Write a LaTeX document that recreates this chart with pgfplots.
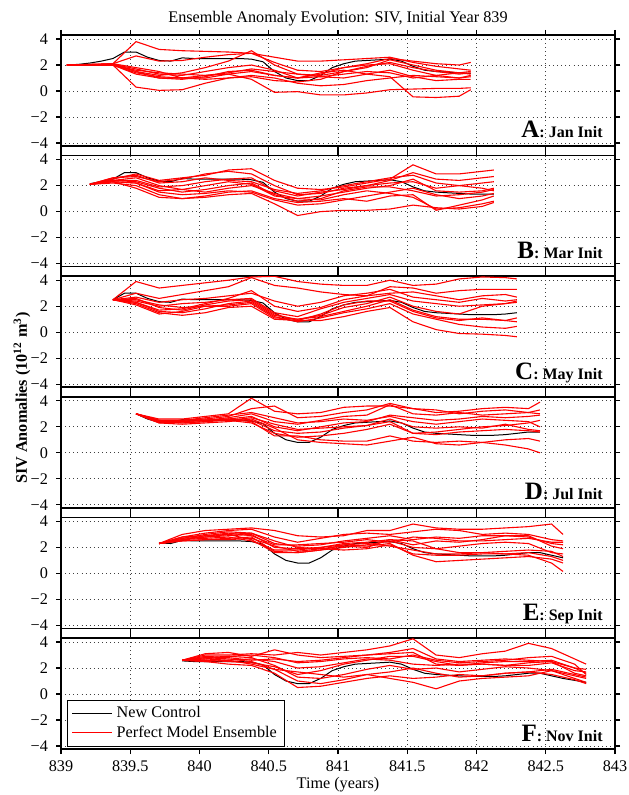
\documentclass[border=0pt]{standalone}
\usepackage{fontspec}
\setmainfont{Liberation Serif}
\usepackage{pgfplots}
\usepackage{pgfplotstable}
\pgfplotsset{compat=1.18}

% x is in months since mid-Jan 839 (g=0 -> 839.04); 839 -> -0.5, 843 -> 47.5
\pgfplotstableread{
g v
0 2.0
1 2.05
2 2.15
3 2.3
4 2.5
5 3.0
6 3.0
7 2.6
8 2.35
9 2.3
10 2.55
11 2.5
12 2.5
13 2.5
14 2.5
15 2.5
16 2.45
17 2.25
18 1.5
19 1.0
20 0.8
21 0.8
22 1.2
23 1.8
24 2.1
25 2.3
26 2.35
27 2.4
28 2.45
29 2.3
30 1.9
31 1.6
32 1.5
33 1.45
34 1.4
35 1.35
36 1.35
37 1.35
38 1.4
39 1.5
40 1.6
41 1.6
42 1.4
43 1.2
44 1.05
45 0.9
}\ctrl

\pgfplotstableread{
g m1 m2 m3 m4 m5 m6 m7 m8 m9 m10
0 2.0 2.0 2.0 2.0 2.0 2.0 2.0 2.0 2.0 2.0
2 2.0 2.05 2.0 2.0 2.0 2.0 2.05 2.0 2.0 2.0
4 2.1 2.1 2.0 2.0 2.0 2.0 2.1 2.0 2.1 2.05
6 3.8 2.7 1.5 0.3 1.3 1.4 1.5 1.6 1.8 1.7
8 3.2 2.3 1.2 0.05 1.0 1.1 1.0 1.4 1.5 1.3
10 3.1 2.35 1.4 0.1 1.0 1.0 0.9 1.3 1.0 1.2
12 3.05 2.6 1.8 0.6 1.2 1.0 1.1 1.2 0.9 1.5
14 3.0 2.8 2.3 1.0 1.3 1.3 1.5 1.4 1.0 1.8
16 2.9 2.9 3.1 1.2 0.9 1.5 1.6 1.7 1.1 2.0
18 2.6 2.2 2.0 1.0 -0.1 1.2 1.2 1.5 0.8 1.6
20 2.3 1.6 1.3 0.6 -0.05 1.0 1.0 1.3 0.7 1.0
22 2.3 1.5 1.2 0.4 -0.3 1.4 1.3 1.1 0.9 1.1
24 2.4 1.8 1.5 0.5 -0.3 1.6 1.8 1.0 1.5 1.3
26 2.5 2.1 1.9 0.8 -0.15 1.3 2.0 1.3 1.8 1.5
28 2.6 2.5 2.2 1.0 0.1 1.1 2.1 1.6 2.4 1.4
30 2.2 2.3 1.8 1.2 0.15 -0.45 1.6 1.1 2.0 1.0
32 1.9 2.1 1.5 1.1 0.2 -0.5 1.2 0.8 1.6 1.2
34 1.7 2.0 1.3 1.0 0.2 -0.4 1.0 0.9 1.4 1.4
35 1.6 2.2 1.4 1.1 0.25 0.1 1.2 0.9 1.3 1.5
}\panelA

\pgfplotstableread{
g m1 m2 m3 m4 m5 m6 m7 m8 m9 m10
2 2.1 2.1 2.1 2.1 2.1 2.1 2.1 2.1 2.1 2.1
4 2.5 2.6 2.4 2.3 2.4 2.3 2.2 2.3 2.6 2.4
6 2.9 2.7 2.4 2.2 2.6 2.2 2.0 1.8 2.8 2.3
8 2.4 2.3 1.9 1.6 2.0 1.5 1.3 1.1 2.2 1.8
10 2.6 2.5 2.0 1.7 1.7 1.3 1.0 1.0 2.3 1.5
12 2.8 2.9 2.3 2.0 1.5 1.4 1.1 1.2 2.6 1.7
14 3.2 3.1 2.5 2.3 1.8 1.6 1.3 1.5 2.4 2.0
16 3.3 2.9 2.6 2.1 2.0 1.5 1.4 1.6 2.3 2.2
18 2.4 2.0 1.6 1.2 1.4 0.9 0.6 1.0 1.7 1.3
20 1.8 1.3 1.2 1.0 1.0 0.5 -0.3 0.7 1.4 0.8
22 1.7 1.4 1.5 1.2 0.9 0.6 0.0 0.8 1.6 1.0
24 1.9 1.8 1.7 1.5 1.3 0.9 0.1 1.0 2.0 1.6
26 2.2 2.0 2.0 1.8 1.6 1.2 0.1 0.8 2.3 1.9
28 2.5 2.4 2.2 2.0 1.4 1.5 0.2 1.2 2.6 1.9
30 3.6 3.0 2.3 2.5 1.1 1.8 0.5 1.3 2.8 1.6
32 2.9 2.5 1.8 1.6 0.2 1.3 0.3 0.1 2.2 1.2
34 2.9 2.4 2.0 1.5 0.3 1.0 0.2 0.5 2.0 1.3
36 3.1 2.6 2.2 1.6 0.6 1.2 0.4 0.9 1.8 1.5
37 3.2 2.7 2.3 1.8 0.8 1.4 0.7 1.2 1.6 1.7
}\panelB

\pgfplotstableread{
g m1 m2 m3 m4 m5 m6 m7 m8 m9 m10
4 2.5 2.5 2.5 2.5 2.5 2.5 2.5 2.5 2.5 2.5
6 3.9 3.0 2.7 2.4 2.3 2.1 2.2 2.6 2.3 2.5
8 3.4 2.6 2.3 2.0 1.6 1.4 1.5 1.9 1.7 2.1
10 3.6 2.9 2.5 2.2 1.5 1.6 1.3 1.7 1.8 1.9
12 3.8 3.2 2.6 2.3 1.8 2.0 1.5 2.1 2.2 2.0
14 4.0 3.5 2.8 2.5 2.2 2.0 1.9 2.4 2.6 2.1
16 4.25 4.2 3.0 2.6 2.4 2.2 2.0 2.5 3.2 2.3
18 4.3 3.6 2.4 1.5 1.3 1.1 1.0 1.4 2.0 1.2
20 3.9 3.4 2.0 1.2 1.0 1.0 0.9 0.9 1.6 0.8
22 3.7 3.1 2.3 1.8 1.2 1.3 0.9 1.4 1.9 1.1
24 3.6 2.9 2.8 2.3 1.6 1.9 1.2 2.1 2.5 1.5
26 3.6 2.8 3.0 2.6 2.0 2.2 1.6 2.4 2.8 1.8
28 4.0 3.5 3.3 2.9 2.5 2.7 1.9 2.4 3.0 2.2
30 3.6 3.4 2.7 2.4 1.7 2.0 0.8 1.6 3.1 1.4
32 3.7 3.0 2.5 2.2 1.2 1.6 0.2 1.1 2.8 1.0
34 4.1 3.2 2.3 2.0 1.0 1.4 -0.1 0.9 2.5 0.6
36 4.25 3.3 2.6 2.1 1.0 2.0 -0.15 1.1 2.8 0.4
38 4.2 3.3 2.4 2.2 0.9 2.2 -0.25 0.9 2.9 0.3
39 4.1 3.3 2.5 2.3 1.1 2.4 -0.35 0.8 2.7 0.45
}\panelC

\pgfplotstableread{
g m1 m2 m3 m4 m5 m6 m7 m8 m9 m10
6 3.0 3.0 3.0 3.0 3.0 3.0 3.0 3.0 3.0 3.0
8 2.6 2.5 2.4 2.3 2.5 2.4 2.3 2.4 2.5 2.4
10 2.6 2.5 2.4 2.4 2.3 2.5 2.2 2.4 2.5 2.3
12 2.8 2.6 2.5 2.5 2.4 2.6 2.3 2.5 2.7 2.4
14 3.0 2.8 2.7 2.6 2.6 2.5 2.4 2.6 2.9 2.5
16 4.2 3.4 3.0 2.8 2.5 2.3 2.6 2.4 3.1 2.7
18 3.2 3.6 2.4 2.0 1.7 1.5 1.9 1.3 2.7 2.2
20 3.0 2.7 2.2 1.7 1.5 1.2 1.0 1.3 2.3 1.8
22 3.1 2.8 2.5 2.0 1.6 1.3 0.8 1.0 2.4 1.9
24 3.5 3.1 2.8 2.3 1.9 1.5 0.7 0.9 2.6 2.0
26 3.6 3.3 2.9 2.4 2.1 1.8 0.6 0.9 2.5 2.1
28 3.6 3.8 3.7 2.9 2.4 2.2 0.9 1.3 2.8 2.6
30 3.4 3.4 3.0 2.7 1.5 1.5 1.2 0.9 2.4 2.0
32 3.1 3.3 2.9 2.5 1.6 1.4 0.7 0.8 2.2 1.9
34 3.2 3.0 3.1 2.6 1.8 1.6 0.6 0.9 2.4 2.0
36 3.4 3.2 2.9 2.8 2.0 1.7 0.8 0.8 2.6 1.9
38 3.5 3.3 3.0 2.7 2.1 1.8 1.0 0.6 2.5 2.2
40 3.4 3.1 3.1 2.8 2.3 1.7 1.1 0.3 2.4 1.8
41 3.9 3.3 3.0 2.9 2.5 1.6 0.9 0.0 2.0 1.7
}\panelD

\pgfplotstableread{
g m1 m2 m3 m4 m5 m6 m7 m8 m9 m10
8 2.3 2.3 2.3 2.3 2.3 2.3 2.3 2.3 2.3 2.3
10 3.0 2.8 2.7 2.6 2.5 2.8 2.6 2.5 2.7 2.6
12 3.3 3.1 3.0 2.8 2.6 2.9 2.7 2.6 2.8 2.9
14 3.4 3.3 3.2 2.9 2.7 3.0 2.8 2.6 3.0 3.1
16 3.5 3.4 3.1 3.0 2.8 2.6 2.5 2.7 3.1 2.9
18 3.3 2.8 2.3 2.0 1.7 1.6 1.8 2.1 2.5 2.2
20 2.9 2.4 2.1 1.9 1.6 1.6 1.8 1.7 2.0 2.2
22 2.8 2.7 2.2 2.0 1.8 1.8 2.0 1.9 1.9 2.3
24 2.9 3.0 2.5 2.3 2.0 2.2 2.2 2.1 1.8 2.4
26 3.3 3.1 2.7 2.4 2.2 2.1 2.3 2.0 1.9 2.6
28 3.3 3.0 2.9 2.6 2.5 2.3 2.1 2.6 2.2 2.4
30 3.8 3.2 2.6 2.2 2.0 1.4 1.8 2.5 1.5 2.8
32 3.5 3.4 2.8 2.5 1.9 0.9 1.5 1.9 1.4 2.7
34 3.4 3.3 2.7 2.4 2.1 1.0 1.5 1.6 1.4 2.5
36 3.4 3.0 2.9 2.6 2.3 1.1 1.6 1.6 1.5 2.5
38 3.5 3.1 2.9 2.9 2.4 1.2 1.5 1.7 1.5 2.6
40 3.6 3.0 2.8 2.9 2.3 1.3 1.4 1.8 1.6 2.7
42 3.8 2.6 2.3 2.1 1.6 1.1 0.8 1.7 1.3 2.4
43 3.0 2.5 2.2 1.9 1.5 0.8 0.15 1.3 1.0 2.4
}\panelE

\pgfplotstableread{
g m1 m2 m3 m4 m5 m6 m7 m8 m9 m10
10 2.6 2.6 2.6 2.6 2.6 2.6 2.6 2.6 2.6 2.6
12 3.0 3.1 2.9 2.6 2.7 2.5 2.8 2.5 2.7 2.8
14 3.0 3.2 2.8 2.5 2.9 2.3 2.7 2.6 2.6 2.9
16 3.1 2.9 2.6 2.4 2.8 2.2 2.5 2.7 2.3 3.0
18 3.0 3.4 2.7 2.1 2.2 1.6 1.9 2.5 1.9 2.8
20 3.2 3.0 2.5 1.5 1.3 0.5 1.0 2.0 1.7 2.4
22 3.0 2.8 2.6 1.8 1.2 0.6 0.8 2.1 1.5 2.5
24 3.2 2.9 2.8 2.3 1.5 0.9 1.1 2.4 1.3 2.7
26 3.4 3.0 3.0 2.6 1.9 1.2 1.5 2.7 1.5 2.8
28 3.7 3.2 3.1 2.9 2.2 1.4 1.2 2.6 1.7 2.7
30 4.25 3.5 3.2 2.9 1.9 1.2 0.9 2.3 2.0 3.0
32 3.0 2.7 2.3 2.5 2.0 1.3 0.4 2.2 1.6 2.6
34 2.8 2.5 2.2 2.2 1.7 1.5 1.0 2.3 1.3 2.4
36 3.1 2.6 2.4 2.3 1.9 1.4 1.2 2.3 1.4 2.5
38 3.3 2.7 2.5 2.2 2.1 1.6 1.3 2.2 1.6 2.6
40 3.9 2.6 2.5 2.4 2.0 1.7 1.4 2.2 1.7 2.8
42 3.5 2.5 2.6 2.5 1.8 1.5 1.8 2.4 1.9 2.9
44 2.7 2.0 2.0 1.6 1.4 1.1 1.2 1.8 1.5 2.3
45 2.3 1.9 1.6 1.4 1.2 0.8 0.9 1.7 1.3 1.5
}\panelF

\newcommand\txt{\fontsize{8.1}{9.2}\selectfont}

\pgfplotsset{
  panel/.style={
    scale only axis, width=277pt, height=55.5pt,
    xmin=-0.5, xmax=47.5, ymin=-4.23, ymax=4.31,
    xtick={-0.5,5.5,11.5,17.5,23.5,29.5,35.5,41.5,47.5},
    xticklabels={},
    ytick={-4,-2,0,2,4},
    yticklabels={−4,−2,0,2,4},
    tick align=outside,
    major tick length=2.5pt,
    every tick/.style={black, line width=0.6pt},
    axis line style={line width=0.85pt},
    grid=major,
    major grid style={black!75, line width=0.45pt, dash pattern=on 0.45pt off 1.6pt},
    tick label style={font=\txt},
    yticklabel style={xshift=-0.5pt},
    legend style={at={(0.011,0.02)}, anchor=south west, draw=black,
      line width=0.6pt, font=\txt, fill=white, inner xsep=2pt, inner ysep=1pt,
      row sep=-1.5pt},
    legend cell align=left,
    legend image code/.code={\draw[#1, line width=0.5pt] (0pt,0pt) -- (20pt,0pt);},
  },
  member/.style={red, line width=0.55pt, forget plot},
}

\newcommand\plab[2]{\node[anchor=base east, font=\bfseries, inner sep=0pt]
  at (rel axis cs:1,0) [xshift=-6pt, yshift=4pt]
  {{\fontsize{12.5}{13}\selectfont #1}{\fontsize{8}{9}\selectfont: #2 Init}};}

\begin{document}
\begin{tikzpicture}
\useasboundingbox (-30.5pt,-324.5pt) rectangle (283.5pt,73pt);

\begin{axis}[panel, at={(0pt,0pt)}]
\addplot[black, line width=0.5pt, restrict x to domain=0:35] table[x=g,y=v]{\ctrl};
\pgfplotsinvokeforeach{m1,m2,m3,m4,m5,m6,m7,m8,m9,m10}{\addplot[member] table[x=g,y=#1]{\panelA};}
\plab{A}{Jan}
\end{axis}

\begin{axis}[panel, at={(0pt,-60.3pt)}]
\addplot[black, line width=0.5pt, restrict x to domain=2:37] table[x=g,y=v]{\ctrl};
\pgfplotsinvokeforeach{m1,m2,m3,m4,m5,m6,m7,m8,m9,m10}{\addplot[member] table[x=g,y=#1]{\panelB};}
\plab{B}{Mar}
\end{axis}

\begin{axis}[panel, at={(0pt,-120.6pt)}]
\addplot[black, line width=0.5pt, restrict x to domain=4:39] table[x=g,y=v]{\ctrl};
\pgfplotsinvokeforeach{m1,m2,m3,m4,m5,m6,m7,m8,m9,m10}{\addplot[member] table[x=g,y=#1]{\panelC};}
\plab{C}{May}
\end{axis}

\begin{axis}[panel, at={(0pt,-180.9pt)}]
\addplot[black, line width=0.5pt, restrict x to domain=6:41] table[x=g,y=v]{\ctrl};
\pgfplotsinvokeforeach{m1,m2,m3,m4,m5,m6,m7,m8,m9,m10}{\addplot[member] table[x=g,y=#1]{\panelD};}
\plab{D}{Jul}
\end{axis}

\begin{axis}[panel, at={(0pt,-241.2pt)}]
\addplot[black, line width=0.5pt, restrict x to domain=8:43] table[x=g,y=v]{\ctrl};
\pgfplotsinvokeforeach{m1,m2,m3,m4,m5,m6,m7,m8,m9,m10}{\addplot[member] table[x=g,y=#1]{\panelE};}
\plab{E}{Sep}
\end{axis}

\begin{axis}[panel, at={(0pt,-301.5pt)},
  xticklabels={839,839.5,840,840.5,841,841.5,842,842.5,843}]
\addplot[black, line width=0.5pt, restrict x to domain=10:45] table[x=g,y=v]{\ctrl};
\addlegendentry{New Control}
\addplot[red, line width=0.55pt] table[x=g,y=m1]{\panelF};
\addlegendentry{Perfect Model Ensemble}
\pgfplotsinvokeforeach{m2,m3,m4,m5,m6,m7,m8,m9,m10}{\addplot[member] table[x=g,y=#1]{\panelF};}
\plab{F}{Nov}
\end{axis}

\node[anchor=base, font=\txt] at (138.5pt,61.6pt) {Ensemble Anomaly Evolution: SIV, Initial Year 839};
\node[anchor=base, font=\txt] at (138.5pt,-321pt) {Time (years)};
\node[rotate=90, font=\txt\bfseries] at (-19.5pt,-126pt) {SIV Anomalies (10\textsuperscript{12} m\textsuperscript{3})};
\end{tikzpicture}
\end{document}
